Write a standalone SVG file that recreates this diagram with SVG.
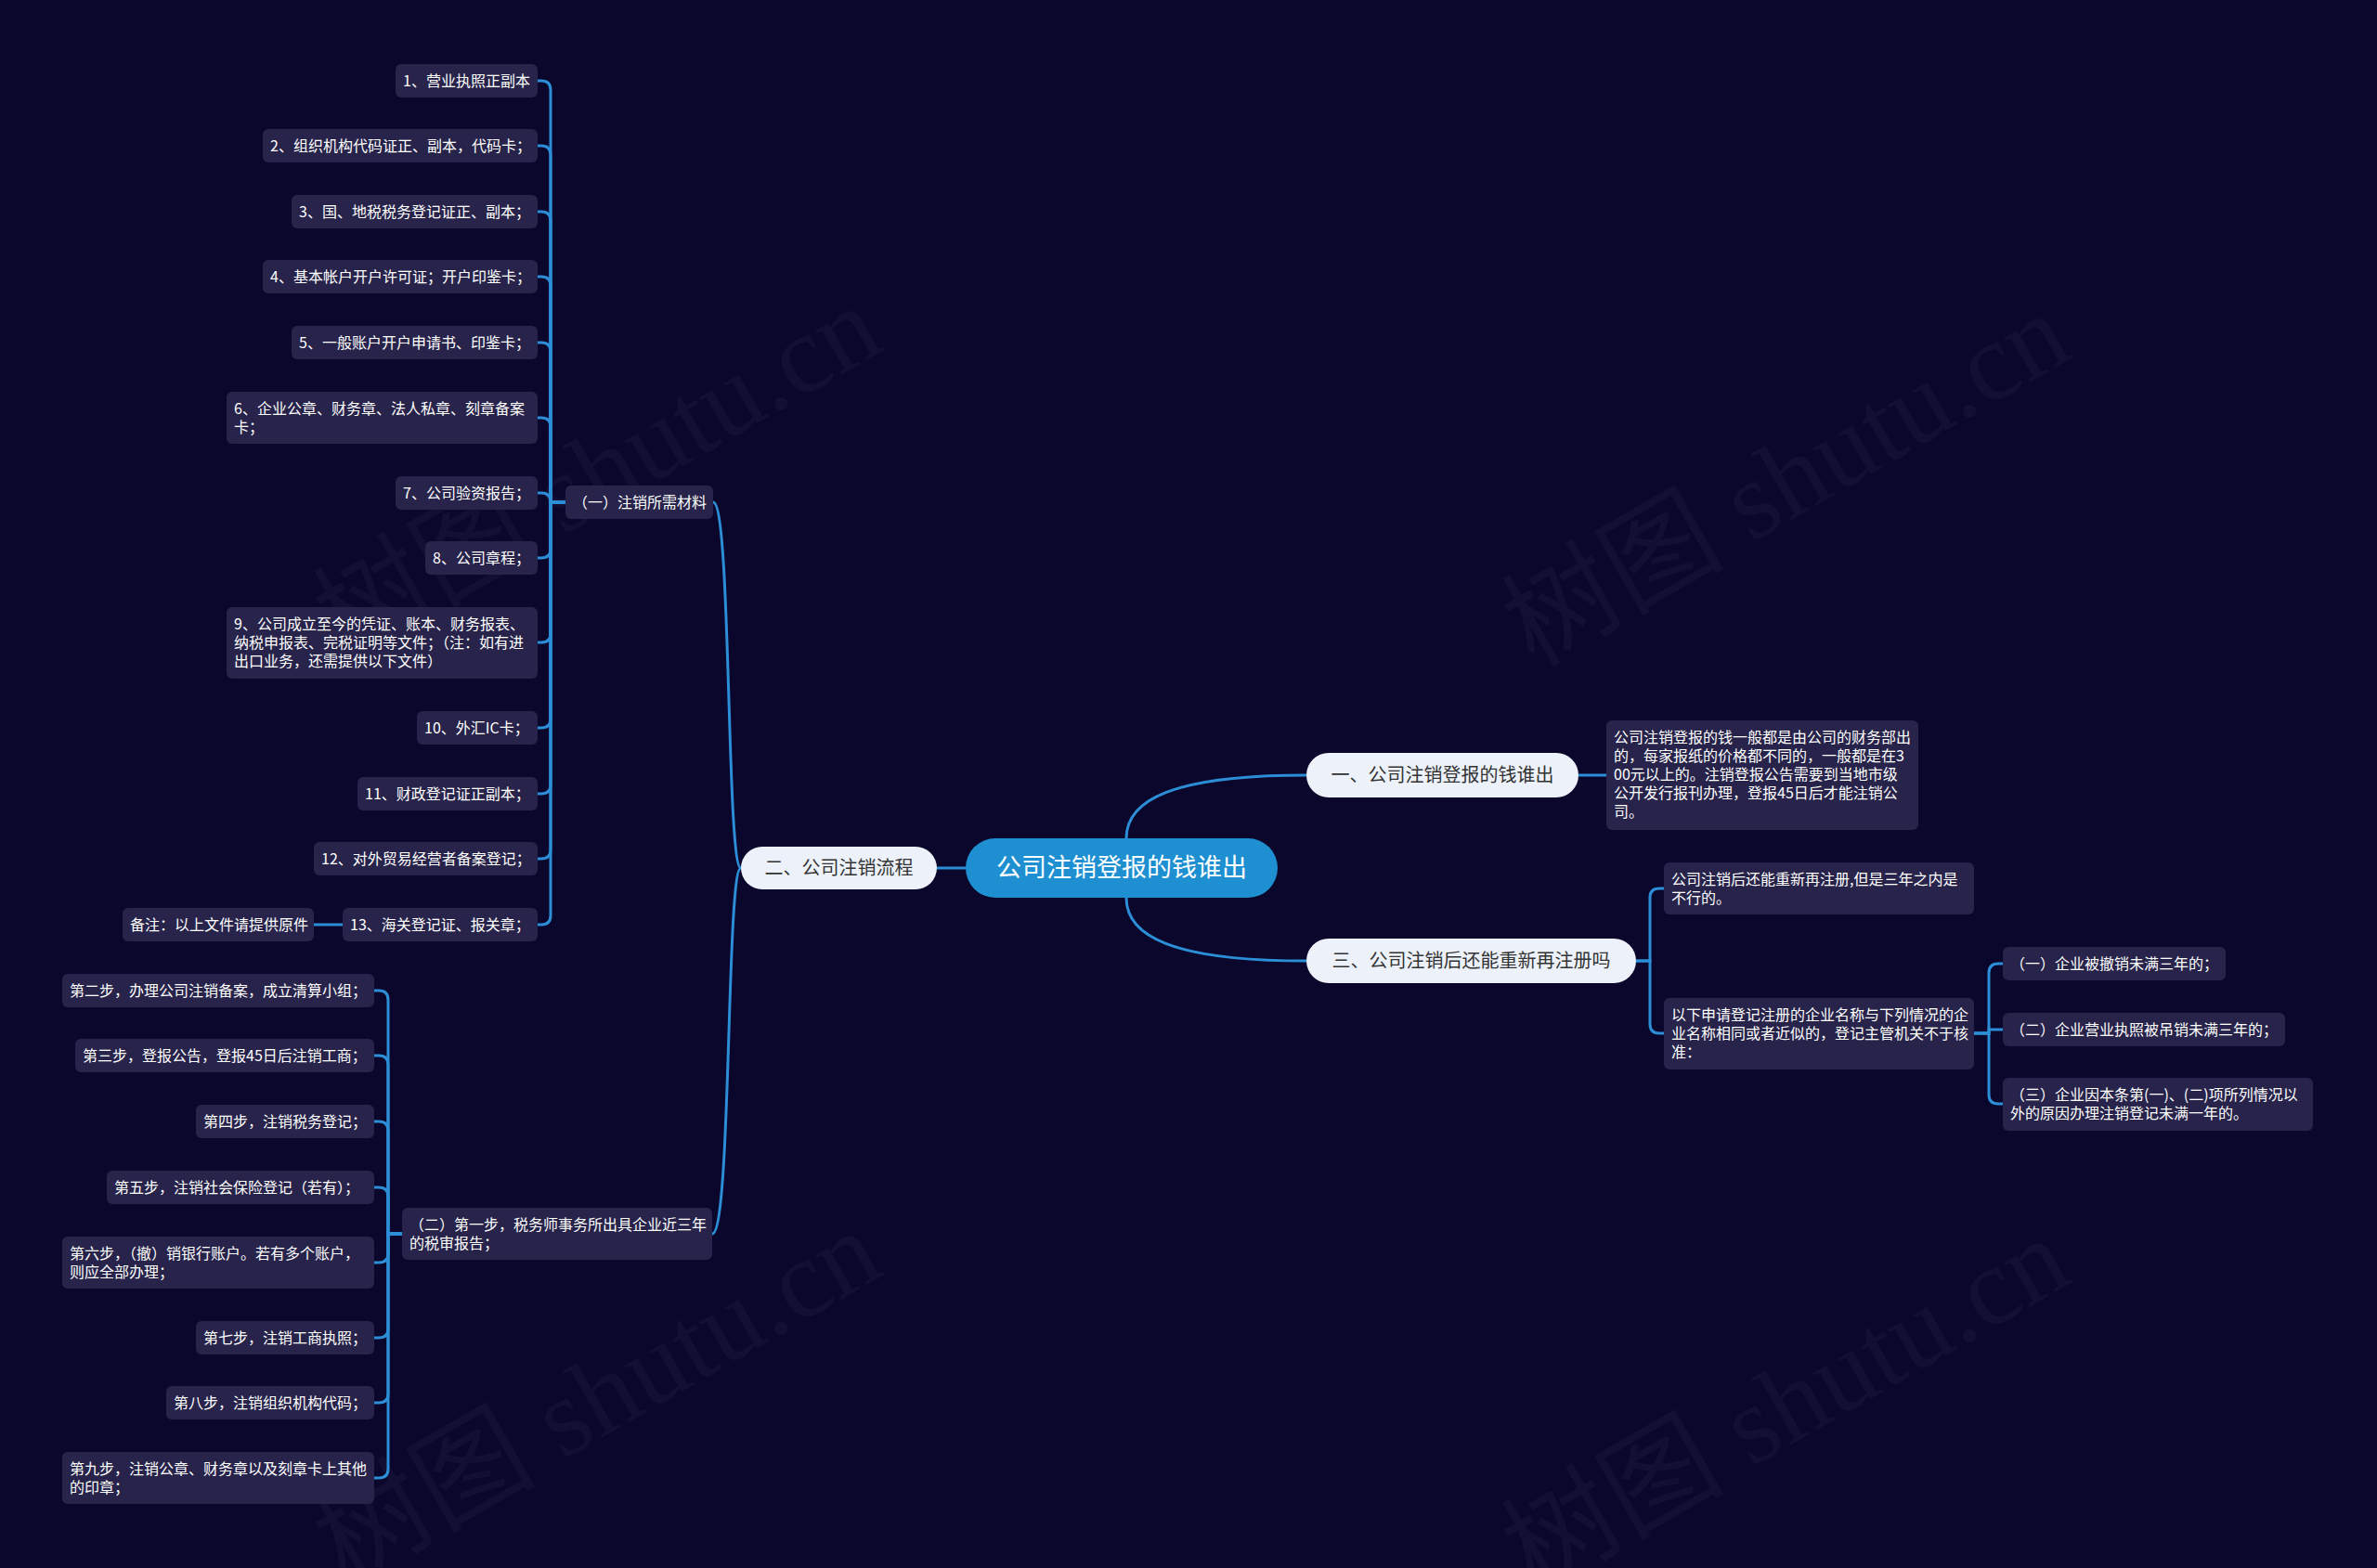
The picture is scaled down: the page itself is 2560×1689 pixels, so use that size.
<svg xmlns="http://www.w3.org/2000/svg" width="2560" height="1689" viewBox="0 0 2560 1689">
<style>
.bg{fill:#0a062c}
.box{fill:#27234a}
.t{font-family:"Noto Sans CJK SC","Liberation Sans",sans-serif;font-size:16px;fill:#ffffff}
.pill{fill:#edf2fa}
.pt{font-family:"Noto Sans CJK SC","Liberation Sans",sans-serif;font-size:20px;fill:#333333;text-anchor:middle}
.root{fill:#1e8fd1}
.rt{font-family:"Noto Sans CJK SC","Liberation Sans",sans-serif;font-size:27px;fill:#ffffff;text-anchor:middle}
.ln{fill:none;stroke:#2c8ed6;stroke-width:3}
.wm{font-family:"Liberation Serif","Noto Sans CJK SC",serif;font-size:120px;fill:#ffffff;fill-opacity:0.04}
</style>
<rect class="bg" x="0" y="0" width="2560" height="1689"/>
<g id="watermarks">
<text class="wm" transform="translate(372 712) rotate(-30)">树图 shutu.cn</text>
<text class="wm" transform="translate(1652 720) rotate(-30)">树图 shutu.cn</text>
<text class="wm" transform="translate(372 1708) rotate(-30)">树图 shutu.cn</text>
<text class="wm" transform="translate(1652 1716) rotate(-30)">树图 shutu.cn</text>
</g>
<g id="connectors">
<path class="ln" d="M1213 903 C1213 862 1262 835 1407 835"/>
<path class="ln" d="M1213 967 C1213 1008 1262 1035 1407 1035"/>
<path class="ln" d="M1040 935 H1009"/>
<path class="ln" d="M798 935 C782 935 788 541 768 541"/>
<path class="ln" d="M798 935 C782 935 788 1329 767 1329"/>
<path class="ln" d="M1700 835 H1730"/>
<path class="ln" d="M1762 1035 H1777 V967 Q1777 957 1787 957 H1792"/>
<path class="ln" d="M1762 1035 H1777 V1103 Q1777 1113 1787 1113 H1792"/>
<path class="ln" d="M2126 1113 H2142 V1048 Q2142 1038 2152 1038 H2157"/>
<path class="ln" d="M2126 1113 H2142 V1109 H2157"/>
<path class="ln" d="M2126 1113 H2142 V1179 Q2142 1189 2152 1189 H2157"/>
<path class="ln" d="M609 541 H593 V97 Q593 87 583 87 H579"/>
<path class="ln" d="M609 541 H593 V167 Q593 157 583 157 H579"/>
<path class="ln" d="M609 541 H593 V238 Q593 228 583 228 H579"/>
<path class="ln" d="M609 541 H593 V308 Q593 298 583 298 H579"/>
<path class="ln" d="M609 541 H593 V379 Q593 369 583 369 H579"/>
<path class="ln" d="M609 541 H593 V460 Q593 450 583 450 H579"/>
<path class="ln" d="M609 541 H593 Q593 531 583 531 H579"/>
<path class="ln" d="M609 541 H593 V591 Q593 601 583 601 H579"/>
<path class="ln" d="M609 541 H593 V682 Q593 692 583 692 H579"/>
<path class="ln" d="M609 541 H593 V774 Q593 784 583 784 H579"/>
<path class="ln" d="M609 541 H593 V845 Q593 855 583 855 H579"/>
<path class="ln" d="M609 541 H593 V915 Q593 925 583 925 H579"/>
<path class="ln" d="M609 541 H593 V986 Q593 996 583 996 H579"/>
<path class="ln" d="M369 996 H338"/>
<path class="ln" d="M433 1329 H418 V1077 Q418 1067 408 1067 H403"/>
<path class="ln" d="M433 1329 H418 V1147 Q418 1137 408 1137 H403"/>
<path class="ln" d="M433 1329 H418 V1218 Q418 1208 408 1208 H403"/>
<path class="ln" d="M433 1329 H418 V1289 Q418 1279 408 1279 H403"/>
<path class="ln" d="M433 1329 H418 V1350 Q418 1360 408 1360 H403"/>
<path class="ln" d="M433 1329 H418 V1431 Q418 1441 408 1441 H403"/>
<path class="ln" d="M433 1329 H418 V1501 Q418 1511 408 1511 H403"/>
<path class="ln" d="M433 1329 H418 V1582 Q418 1592 408 1592 H403"/>
</g>
<g id="root"><rect class="root" x="1040" y="903" width="336" height="64" rx="32"/><text class="rt" x="1208" y="944">公司注销登报的钱谁出</text></g>
<g id="b1"><rect class="pill" x="1407" y="811" width="293" height="48" rx="24"/><text class="pt" x="1553.5" y="842">一、公司注销登报的钱谁出</text></g>
<g id="b1-desc"><rect class="box" x="1730" y="776" width="336" height="118" rx="6"/>
<text class="t" x="1738" y="800">公司注销登报的钱一般都是由公司的财务部出</text>
<text class="t" x="1738" y="820">的，每家报纸的价格都不同的，一般都是在3</text>
<text class="t" x="1738" y="840">00元以上的。注销登报公告需要到当地市级</text>
<text class="t" x="1738" y="860">公开发行报刊办理，登报45日后才能注销公</text>
<text class="t" x="1738" y="880">司。</text></g>
<g id="b3"><rect class="pill" x="1407" y="1011" width="355" height="48" rx="24"/><text class="pt" x="1584.5" y="1042">三、公司注销后还能重新再注册吗</text></g>
<g id="b3-c1"><rect class="box" x="1792" y="929" width="334" height="56" rx="6"/>
<text class="t" x="1800" y="953">公司注销后还能重新再注册,但是三年之内是</text>
<text class="t" x="1800" y="973">不行的。</text></g>
<g id="b3-c2"><rect class="box" x="1792" y="1075" width="334" height="77" rx="6"/>
<text class="t" x="1800" y="1099">以下申请登记注册的企业名称与下列情况的企</text>
<text class="t" x="1800" y="1119">业名称相同或者近似的，登记主管机关不于核</text>
<text class="t" x="1800" y="1139">准：</text></g>
<g id="b3-c2-1"><rect class="box" x="2157" y="1020" width="240" height="36" rx="6"/><text class="t" x="2165" y="1044">（一）企业被撤销未满三年的；</text></g>
<g id="b3-c2-2"><rect class="box" x="2157" y="1091" width="304" height="36" rx="6"/><text class="t" x="2165" y="1115">（二）企业营业执照被吊销未满三年的；</text></g>
<g id="b3-c2-3"><rect class="box" x="2157" y="1161" width="334" height="57" rx="6"/>
<text class="t" x="2165" y="1185">（三）企业因本条第(一)、(二)项所列情况以</text>
<text class="t" x="2165" y="1205">外的原因办理注销登记未满一年的。</text></g>
<g id="b2"><rect class="pill" x="798" y="912" width="211" height="46" rx="23"/><text class="pt" x="903.5" y="942">二、公司注销流程</text></g>
<g id="b2-1"><rect class="box" x="609" y="523" width="159" height="36" rx="6"/><text class="t" x="617" y="547">（一）注销所需材料</text></g>
<g id="m1"><rect class="box" x="426" y="69" width="153" height="36" rx="6"/><text class="t" x="434" y="93">1、营业执照正副本</text></g>
<g id="m2"><rect class="box" x="283" y="139" width="296" height="36" rx="6"/><text class="t" x="291" y="163">2、组织机构代码证正、副本，代码卡；</text></g>
<g id="m3"><rect class="box" x="314" y="210" width="265" height="36" rx="6"/><text class="t" x="322" y="234">3、国、地税税务登记证正、副本；</text></g>
<g id="m4"><rect class="box" x="283" y="280" width="296" height="36" rx="6"/><text class="t" x="291" y="304">4、基本帐户开户许可证；开户印鉴卡；</text></g>
<g id="m5"><rect class="box" x="314" y="351" width="265" height="36" rx="6"/><text class="t" x="322" y="375">5、一般账户开户申请书、印鉴卡；</text></g>
<g id="m6"><rect class="box" x="244" y="422" width="335" height="56" rx="6"/><text class="t" x="252" y="446">6、企业公章、财务章、法人私章、刻章备案</text><text class="t" x="252" y="466">卡；</text></g>
<g id="m7"><rect class="box" x="426" y="513" width="153" height="36" rx="6"/><text class="t" x="434" y="537">7、公司验资报告；</text></g>
<g id="m8"><rect class="box" x="458" y="583" width="121" height="36" rx="6"/><text class="t" x="466" y="607">8、公司章程；</text></g>
<g id="m9"><rect class="box" x="244" y="654" width="335" height="77" rx="6"/><text class="t" x="252" y="678">9、公司成立至今的凭证、账本、财务报表、</text><text class="t" x="252" y="698">纳税申报表、完税证明等文件；（注：如有进</text><text class="t" x="252" y="718">出口业务，还需提供以下文件）</text></g>
<g id="m10"><rect class="box" x="449" y="766" width="130" height="36" rx="6"/><text class="t" x="457" y="790">10、外汇IC卡；</text></g>
<g id="m11"><rect class="box" x="385" y="837" width="194" height="36" rx="6"/><text class="t" x="393" y="861">11、财政登记证正副本；</text></g>
<g id="m12"><rect class="box" x="338" y="907" width="241" height="36" rx="6"/><text class="t" x="346" y="931">12、对外贸易经营者备案登记；</text></g>
<g id="m13"><rect class="box" x="369" y="978" width="210" height="36" rx="6"/><text class="t" x="377" y="1002">13、海关登记证、报关章；</text></g>
<g id="m13-note"><rect class="box" x="132" y="978" width="206" height="36" rx="6"/><text class="t" x="140" y="1002">备注：以上文件请提供原件</text></g>
<g id="b2-2"><rect class="box" x="433" y="1301" width="334" height="56" rx="6"/><text class="t" x="441" y="1325">（二）第一步，税务师事务所出具企业近三年</text><text class="t" x="441" y="1345">的税审报告；</text></g>
<g id="s2"><rect class="box" x="67" y="1049" width="336" height="36" rx="6"/><text class="t" x="75" y="1073">第二步，办理公司注销备案，成立清算小组；</text></g>
<g id="s3"><rect class="box" x="81" y="1119" width="322" height="36" rx="6"/><text class="t" x="89" y="1143">第三步，登报公告，登报45日后注销工商；</text></g>
<g id="s4"><rect class="box" x="211" y="1190" width="192" height="36" rx="6"/><text class="t" x="219" y="1214">第四步，注销税务登记；</text></g>
<g id="s5"><rect class="box" x="115" y="1261" width="288" height="36" rx="6"/><text class="t" x="123" y="1285">第五步，注销社会保险登记（若有）；</text></g>
<g id="s6"><rect class="box" x="67" y="1332" width="336" height="56" rx="6"/><text class="t" x="75" y="1356">第六步，（撤）销银行账户。若有多个账户，</text><text class="t" x="75" y="1376">则应全部办理；</text></g>
<g id="s7"><rect class="box" x="211" y="1423" width="192" height="36" rx="6"/><text class="t" x="219" y="1447">第七步，注销工商执照；</text></g>
<g id="s8"><rect class="box" x="179" y="1493" width="224" height="36" rx="6"/><text class="t" x="187" y="1517">第八步，注销组织机构代码；</text></g>
<g id="s9"><rect class="box" x="67" y="1564" width="336" height="56" rx="6"/><text class="t" x="75" y="1588">第九步，注销公章、财务章以及刻章卡上其他</text><text class="t" x="75" y="1608">的印章；</text></g>
</svg>
